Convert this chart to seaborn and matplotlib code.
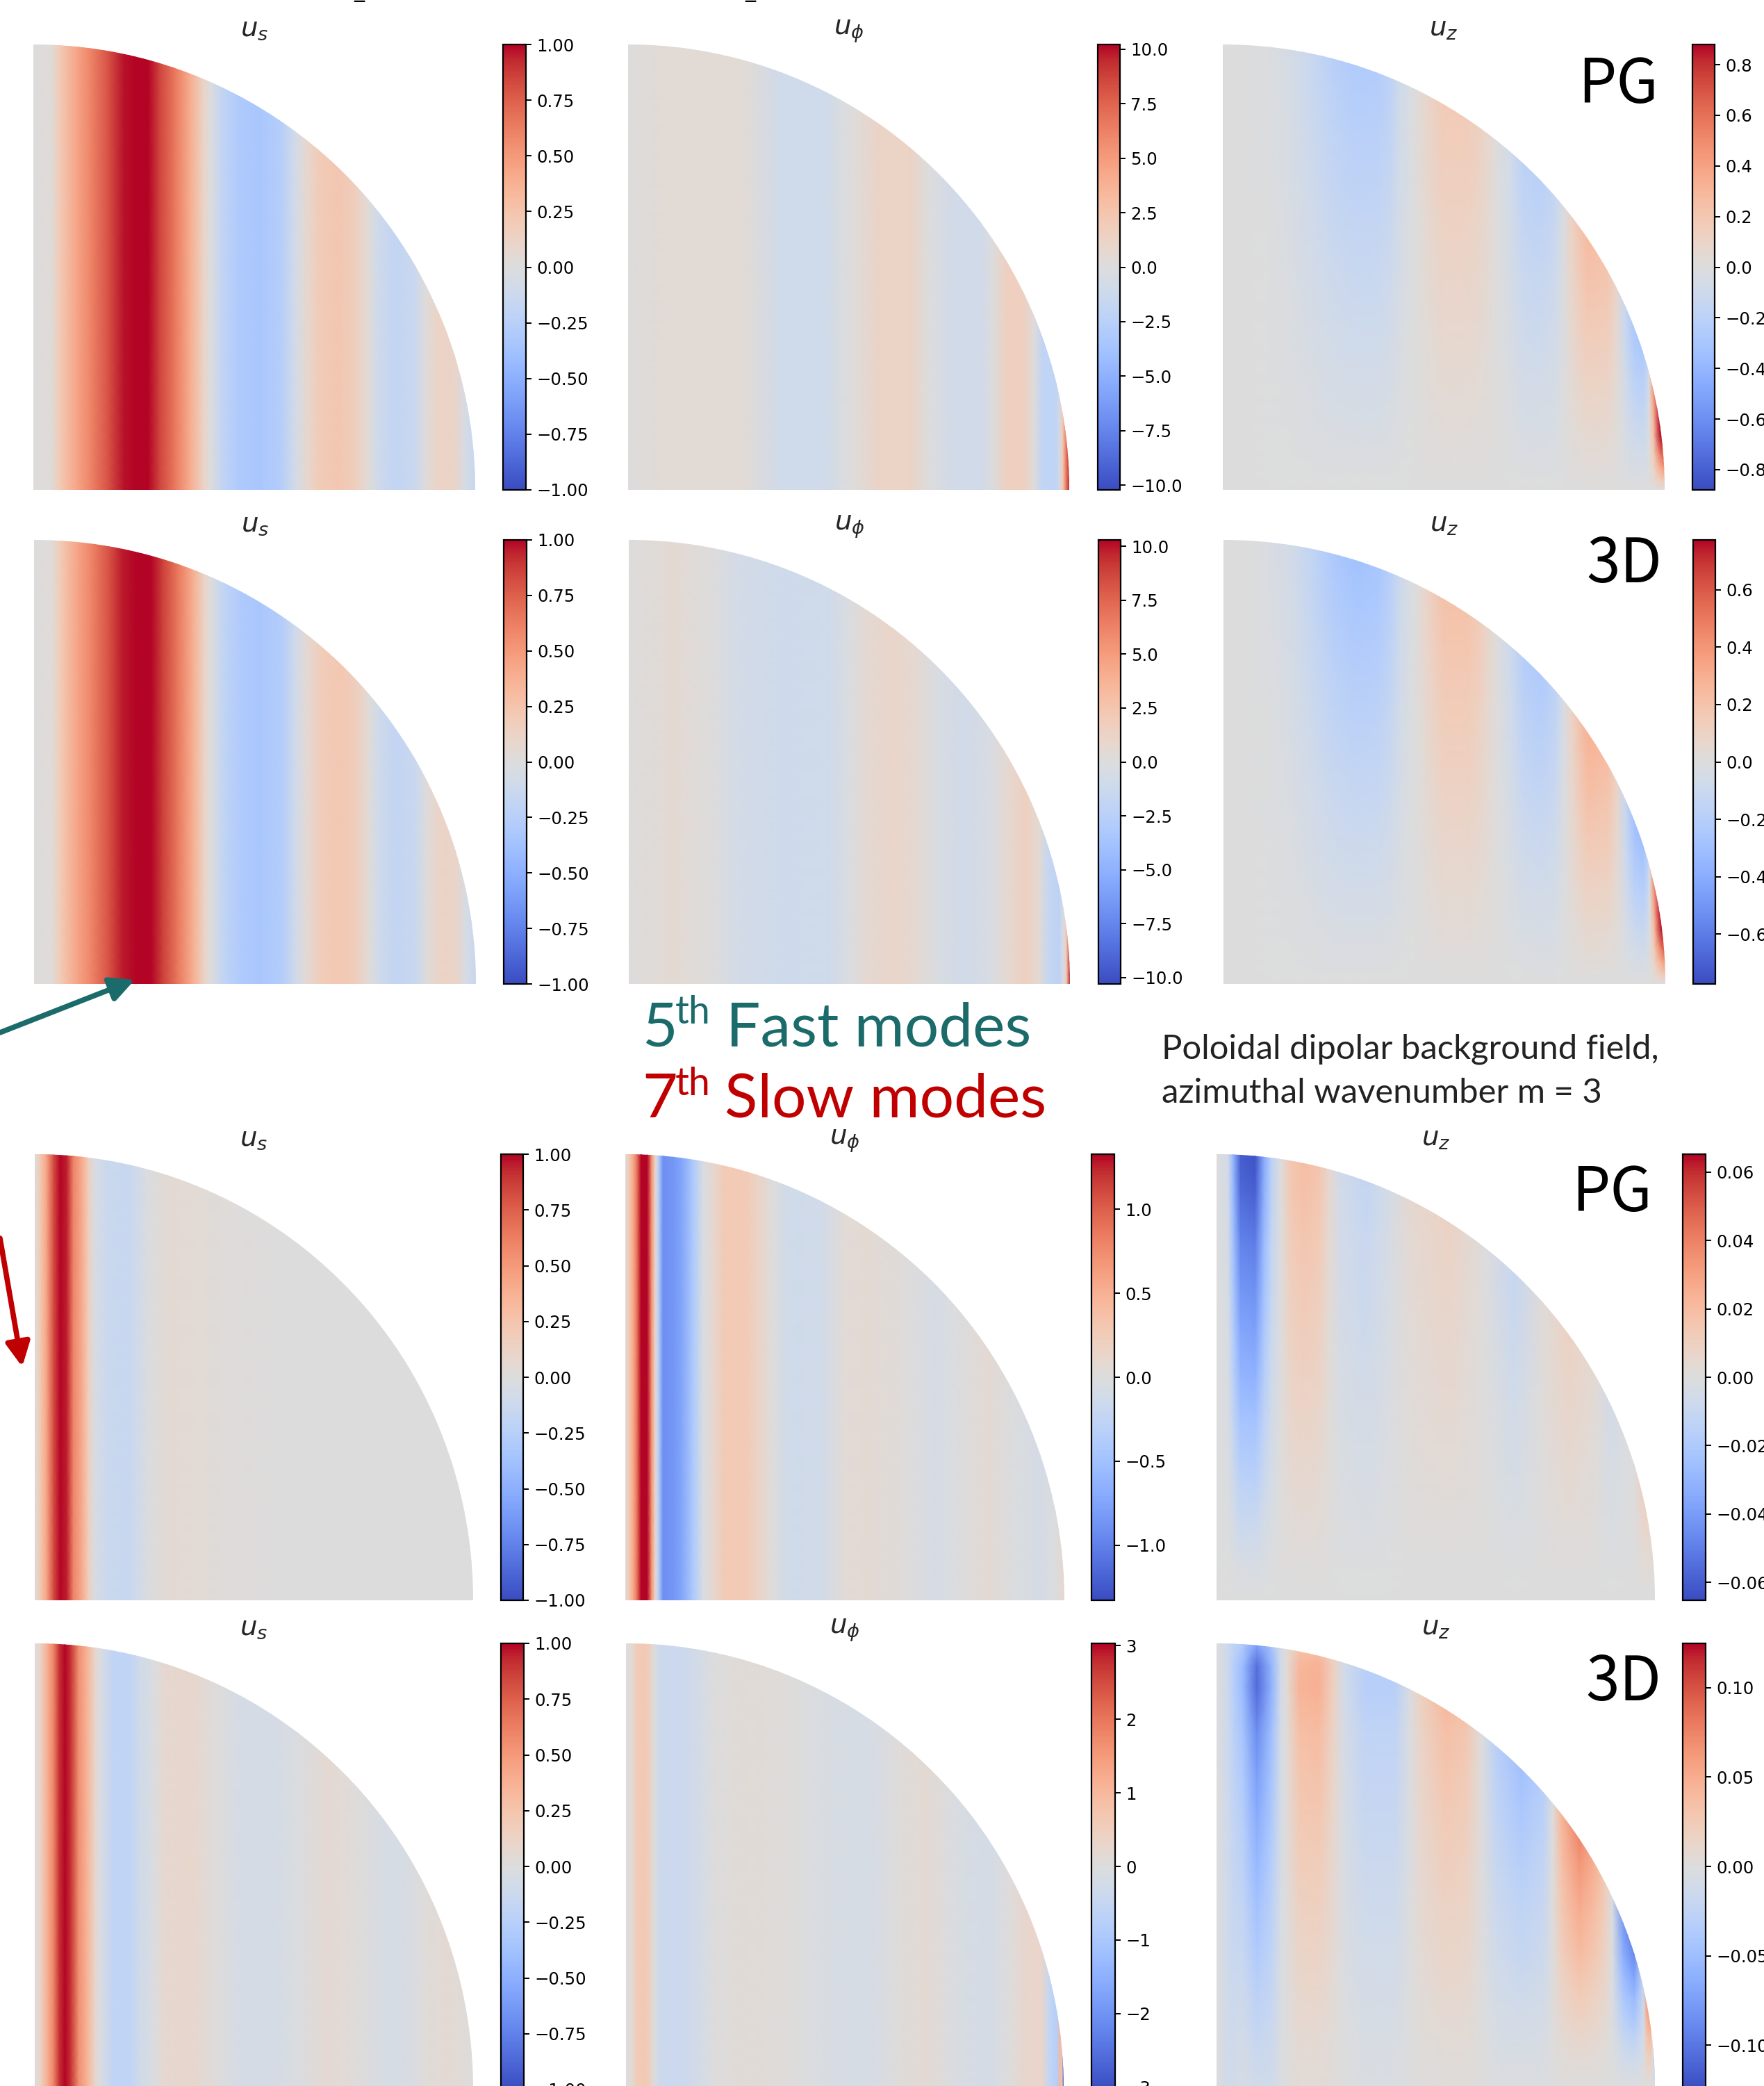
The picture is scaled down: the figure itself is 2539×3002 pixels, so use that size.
import numpy as np
import pandas as pd
import matplotlib
matplotlib.use("Agg")
import matplotlib.pyplot as plt
import seaborn as sns
from matplotlib.patches import Circle, FancyArrowPatch

sns.set_theme(style="white")
plt.rcParams['font.family'] = ['DejaVu Sans']

W, H = 2539, 3002

# Radius levels (s) and profile, fast modes
fast_us_pg_s = [0, .04, .06, .1, .13, .17, .205, .23, .26, .286, .32, .354, .385, .4, .43, .466, .51, .557, .593, .62, .647, .692, .728, .755, .78, .818, .863, .89, .918, .954, .977, 1]
fast_us_pg = [0, .02, .2, .45, .6, .8, .97, 1, 1, .85, .65, .4, .12, 0, -.2, -.3, -.33, -.28, -.08, .08, .19, .23, .17, .04, -.1, -.18, -.14, .02, .13, .11, -.05, -.15]
fast_us_3d_s = [0, .04, .06, .1, .13, .17, .2, .23, .265, .29, .325, .358, .385, .4, .43, .47, .51, .56, .595, .62, .65, .695, .73, .755, .78, .82, .865, .89, .92, .955, .977, 1]
fast_us_3d = [0, .02, .2, .45, .6, .8, .96, 1, 1, .87, .65, .4, .12, 0, -.2, -.3, -.33, -.28, -.08, .07, .18, .22, .17, .04, -.1, -.18, -.14, .02, .12, .11, -.05, -.15]

fast_uphi_pg_s = [0, .1, .26, .35, .45, .48, .515, .57, .64, .68, .74, .8, .825, .86, .895, .92, .94, .97, .977, .985, .994, 1]
fast_uphi_pg = [0, .4, .4, -1.0, -1.0, -.3, .2, 1.2, 1.2, 0, -.9, -.9, -.1, 1.6, 1.6, .2, -2, -2, -1, 2, 7, 9.5]
fast_uphi_3d_s = [0, .1, .18, .25, .35, .45, .5, .54, .6, .65, .7, .76, .82, .86, .9, .93, .95, .975, .985, .992, 1]
fast_uphi_3d = [0, .5, .1, -.8, -1.1, -1.0, -.2, .6, 1.1, .6, -.3, -.9, -.4, .7, 1.6, .5, -1.6, -2.2, -.5, 2, 9.5]

fast_uz_pg_s = [0, .05, .1, .15, .2, .25, .3, .35, .38, .4, .42, .44, .46, .5, .55, .58, .6, .62, .65, .68, .72, .75, .77, .79, .825, .87, .89, .91, .93, .95, .96, .965, .975, .99, 1]
fast_uz_pg = [0, 0, -.01, -.05, -.13, -.22, -.27, -.26, -.2, -.1, -.04, .02, .09, .2, .2, .16, .09, 0, -.1, -.26, -.3, -.22, -.05, .2, .48, .43, .2, -.3, -.75, -.9, -.6, 0, 2, 7, 9]
fast_uz_3d_s = [0, .05, .1, .15, .2, .25, .3, .35, .38, .4, .42, .44, .46, .5, .55, .58, .6, .62, .65, .68, .72, .75, .77, .79, .825, .87, .89, .91, .93, .95, .96, .965, .975, .99, 1]
fast_uz_3d = [0, 0, -.02, -.06, -.15, -.25, -.3, -.28, -.2, -.1, -.04, .02, .1, .24, .24, .18, .09, 0, -.12, -.28, -.33, -.25, -.06, .18, .5, .45, .2, -.3, -.8, -.95, -.6, 0, 2, 6, 8]

# Slow modes
slow_us_pg_s = [0, .012, .027, .042, .058, .073, .088, .108, .123, .138, .164, .214, .255, .305, .366, .426, .527, 1]
slow_us_pg = [0, .2, .45, .8, 1, .95, .6, .4, .15, -.05, -.13, -.15, -.03, .05, .04, .02, 0, 0]
slow_us_3d_s = [0, .012, .03, .043, .056, .069, .082, .1, .12, .138, .15, .18, .216, .24, .27, .295, .355, .407, .46, .53, .6, .668, .72, .79, .84, .9, .946, 1]
slow_us_3d = [0, .1, .4, .6, .9, 1, .9, .55, .35, .08, -.03, -.2, -.2, -.1, -.02, .07, .09, .02, -.05, -.07, -.02, .06, .03, -.04, -.05, .03, .05, 0]

slow_uphi_pg_s = [0, .009, .018, .027, .036, .05, .06, .068, .075, .086, .11, .127, .155, .177, .2, .227, .273, .3, .336, .373, .445, .5, .555, .627, .71, .755, .827, .88, .945, .98, 1]
slow_uphi_pg = [0, .3, .55, .9, 1.33, 1.33, .7, .15, -.3, -.9, -.85, -.75, -.4, -.05, .1, .28, .28, .17, 0, -.13, -.12, .05, .07, .03, -.07, -.02, .07, -.02, -.08, -.02, .1]
slow_uphi_3d_s = [0, .014, .023, .04, .053, .064, .08, .127, .17, .205, .283, .37, .475, .56, .63, .683, .76, .83, .883, .918, .95, .967, .985, .992, .996, 1]
slow_uphi_3d = [0, .1, .55, .65, .5, 0, -.4, -.4, -.2, .02, .1, .03, -.12, -.15, .05, .15, -.1, -.2, .05, .3, .3, -.5, -.8, 1, .5, -3]

slow_uz_pg_s = [0, .026, .038, .055, .088, .108, .125, .146, .17, .2, .233, .257, .282, .34, .39, .448, .53, .613, .68, .746, .804, .86, .9, .953, .978, 1]
slow_uz_pg = [0, -.005, -.03, -.06, -.063, -.035, -.015, 0, .015, .019, .016, .005, -.006, -.012, -.005, .005, .01, 0, -.014, .003, .015, .007, -.012, 0, .05, .05]
slow_uz_3d_s = [0, .026, .038, .06, .092, .125, .146, .16, .19, .233, .266, .29, .34, .406, .44, .465, .523, .57, .605, .638, .696, .746, .767, .787, .828, .862, .887, .903, .928, .953, .974, .982, .99, .996, 1]
slow_uz_3d = [0, -.003, -.02, -.05, -.1, -.05, -.01, .005, .042, .046, .018, -.01, -.03, -.03, -.005, .018, .044, .036, 0, -.04, -.07, -.05, 0, .08, .15, .11, .06, -.01, -.25, -.35, -.1, .4, .5, 0, -1.5]
# part of the 3D slow u_z stripes that stays down to the equator
slow_uz_3d_base = [0, -.012, -.012, -.006, -.012, -.012, -.003, 0, .004, .004, .002, 0, -.003, -.003, 0, .001, .002, .002, 0, -.002, -.002, -.002, 0, 0, 0, 0, 0, 0, 0, 0, 0, 0, 0, 0, 0]

# Height levels (z) and the strength of the u_z stripes at each one
z_levels = [0, .02, .05, .08, .12, .16, .2, .25, .3, .4, .5, .6, .7, .8, .9, .95, 1]
uz_fast_amp = [0, .02, .05, .08, .12, .16, .2, .25, .3, .4, .5, .6, .7, .8, .9, .95, 1]
uz_slow_pg_amp = [0, .01, .03, .05, .09, .13, .17, .22, .28, .38, .5, .6, .7, .8, .92, .97, 1]
uz_slow_3d_amp = [0, .01, .03, .05, .08, .12, .15, .2, .25, .33, .42, .52, .62, .74, .95, .92, .6]
flat_amp = [1] * len(z_levels)

# Colour limits and colourbar ticks
us_lim = 1.0
us_ticks = [-1, -.75, -.5, -.25, 0, .25, .5, .75, 1]
fast_uphi_pg_lim, fast_uphi_3d_lim = 10.22, 10.3
fast_uphi_ticks = [-10, -7.5, -5, -2.5, 0, 2.5, 5, 7.5, 10]
fast_uz_pg_lim, fast_uz_3d_lim = .88, .774
fast_uz_pg_ticks = [-.8, -.6, -.4, -.2, 0, .2, .4, .6, .8]
fast_uz_3d_ticks = [-.6, -.4, -.2, 0, .2, .4, .6]
slow_uphi_pg_lim, slow_uphi_3d_lim = 1.328, 3.03
slow_uphi_pg_ticks = [-1, -.5, 0, .5, 1]
slow_uphi_3d_ticks = [-3, -2, -1, 0, 1, 2, 3]
slow_uz_pg_lim, slow_uz_3d_lim = .0652, .1247
slow_uz_pg_ticks = [-.06, -.04, -.02, 0, .02, .04, .06]
slow_uz_3d_ticks = [-.10, -.05, 0, .05, .10]

cmap = sns.color_palette("coolwarm", as_cmap=True)

fig = plt.figure(figsize=(W / 100, H / 100), dpi=100, facecolor="white")


def panel(box, cbox, title, s, prof, amp, lim, ticks, fmt, base=0):
    ax = fig.add_axes([box[0] / W, 1 - box[3] / H, (box[1] - box[0]) / W, (box[3] - box[2]) / H])
    cax = fig.add_axes([cbox[0] / W, 1 - box[3] / H, (cbox[1] - cbox[0]) / W, (box[3] - box[2]) / H])

    table = pd.DataFrame(np.outer(amp, prof) + np.array(base), index=z_levels, columns=s)
    sns.heatmap(table, ax=ax, cbar_ax=cax, cmap=cmap, vmin=-lim, vmax=lim,
                xticklabels=False, yticklabels=False)
    # heatmap cells are equal width, the stripes need the real s and z levels
    ax.collections[0].set_visible(False)
    ax.collections[0].colorbar.outline.set_linewidth(1.6)
    ax.collections[0].colorbar.outline.set_edgecolor("black")
    mesh = ax.pcolormesh(s, z_levels, table.values, cmap=cmap, vmin=-lim, vmax=lim, shading="gouraud")
    mesh.set_clip_path(Circle((0, 0), 1, transform=ax.transData))
    ax.set_xlim(0, 1)
    ax.set_ylim(0, 1)
    ax.axis("off")
    ax.set_title(title, fontsize=28, pad=9)

    cax.set_yticks(ticks)
    cax.set_yticklabels([(fmt % t).replace("-", "\u2212") for t in ticks])
    cax.tick_params(axis="y", right=True, left=False, labelright=True, labelleft=False,
                    length=6, width=1.4, labelsize=17.6, pad=5, colors="black")


# Top block
panel((48, 684, 64, 705), (724, 757), "$u_s$", fast_us_pg_s, fast_us_pg, flat_amp, us_lim, us_ticks, "%.2f")
panel((904, 1539, 64, 705), (1580, 1612), "$u_\\phi$", fast_uphi_pg_s, fast_uphi_pg, flat_amp, fast_uphi_pg_lim, fast_uphi_ticks, "%.1f")
panel((1760, 2396, 64, 705), (2436, 2468), "$u_z$", fast_uz_pg_s, fast_uz_pg, uz_fast_amp, fast_uz_pg_lim, fast_uz_pg_ticks, "%.1f")
panel((49, 685, 777, 1416), (725, 758), "$u_s$", fast_us_3d_s, fast_us_3d, flat_amp, us_lim, us_ticks, "%.2f")
panel((905, 1540, 777, 1416), (1581, 1613), "$u_\\phi$", fast_uphi_3d_s, fast_uphi_3d, flat_amp, fast_uphi_3d_lim, fast_uphi_ticks, "%.1f")
panel((1761, 2397, 777, 1416), (2437, 2469), "$u_z$", fast_uz_3d_s, fast_uz_3d, uz_fast_amp, fast_uz_3d_lim, fast_uz_3d_ticks, "%.1f")

# Bottom block
panel((50, 681, 1661, 2303), (721, 753), "$u_s$", slow_us_pg_s, slow_us_pg, flat_amp, us_lim, us_ticks, "%.2f")
panel((900, 1532, 1661, 2303), (1571, 1604), "$u_\\phi$", slow_uphi_pg_s, slow_uphi_pg, flat_amp, slow_uphi_pg_lim, slow_uphi_pg_ticks, "%.1f")
panel((1751, 2382, 1661, 2303), (2422, 2455), "$u_z$", slow_uz_pg_s, slow_uz_pg, uz_slow_pg_amp, slow_uz_pg_lim, slow_uz_pg_ticks, "%.2f")
panel((50, 681, 2365, 3007), (721, 754), "$u_s$", slow_us_3d_s, slow_us_3d, flat_amp, us_lim, us_ticks, "%.2f")
panel((901, 1531, 2365, 3007), (1571, 1605), "$u_\\phi$", slow_uphi_3d_s, slow_uphi_3d, flat_amp, slow_uphi_3d_lim, slow_uphi_3d_ticks, "%d")
panel((1751, 2382, 2365, 3007), (2422, 2455), "$u_z$", slow_uz_3d_s, slow_uz_3d, uz_slow_3d_amp, slow_uz_3d_lim, slow_uz_3d_ticks, "%.2f", base=slow_uz_3d_base)


def label(x, y, text, **kw):
    fig.text(x / W, 1 - y / H, text, va="baseline", ha="left", **kw)


# Model labels
tag_font = dict(family="Noto Sans CJK JP", fontsize=63, color="black")
label(2271, 148, "PG", **tag_font)
label(2283, 838, "3D", **tag_font)
label(2262, 1743, "PG", **tag_font)
label(2282, 2447, "3D", **tag_font)

# Mode headings
teal = "#1b6b6b"
red = "#c00000"
label(924, 1505, "5", family="Lato", fontsize=63, color=teal)
label(972, 1473, "th", family="Lato", fontsize=40, color=teal)
label(1045, 1505, "Fast modes", family="Lato", fontsize=63, color=teal)
label(924, 1608, "7", family="Lato", fontsize=63, color=red)
label(972, 1576, "th", family="Lato", fontsize=40, color=red)
label(1043, 1608, "Slow modes", family="Lato", fontsize=63, color=red)

label(1672, 1524, "Poloidal dipolar background field,", family="Lato", fontsize=35.3, color="#222222")
label(1672, 1587, "azimuthal wavenumber m = 3", family="Lato", fontsize=35.3, color="#222222")

# Bottoms of two labels cut off by the top edge
fig.text(517 / W, 1 + 4 / H, "_", ha="center", va="baseline", fontsize=21.6, color="black")
fig.text(1080 / W, 1 + 4 / H, "_", ha="center", va="baseline", fontsize=21.6, color="black")

# Arrows running in from the left edge
for start, tip, colour in [((0, 1486), (194, 1410), teal), ((0, 1782), (32, 1967), red)]:
    fig.add_artist(FancyArrowPatch((start[0] / W, 1 - start[1] / H), (tip[0] / W, 1 - tip[1] / H),
                                   transform=fig.transFigure, arrowstyle="-|>,head_length=1.1,head_width=0.55",
                                   mutation_scale=19, lw=5.5, color=colour, shrinkA=0, shrinkB=0))

fig.savefig("out.png", dpi=100)
